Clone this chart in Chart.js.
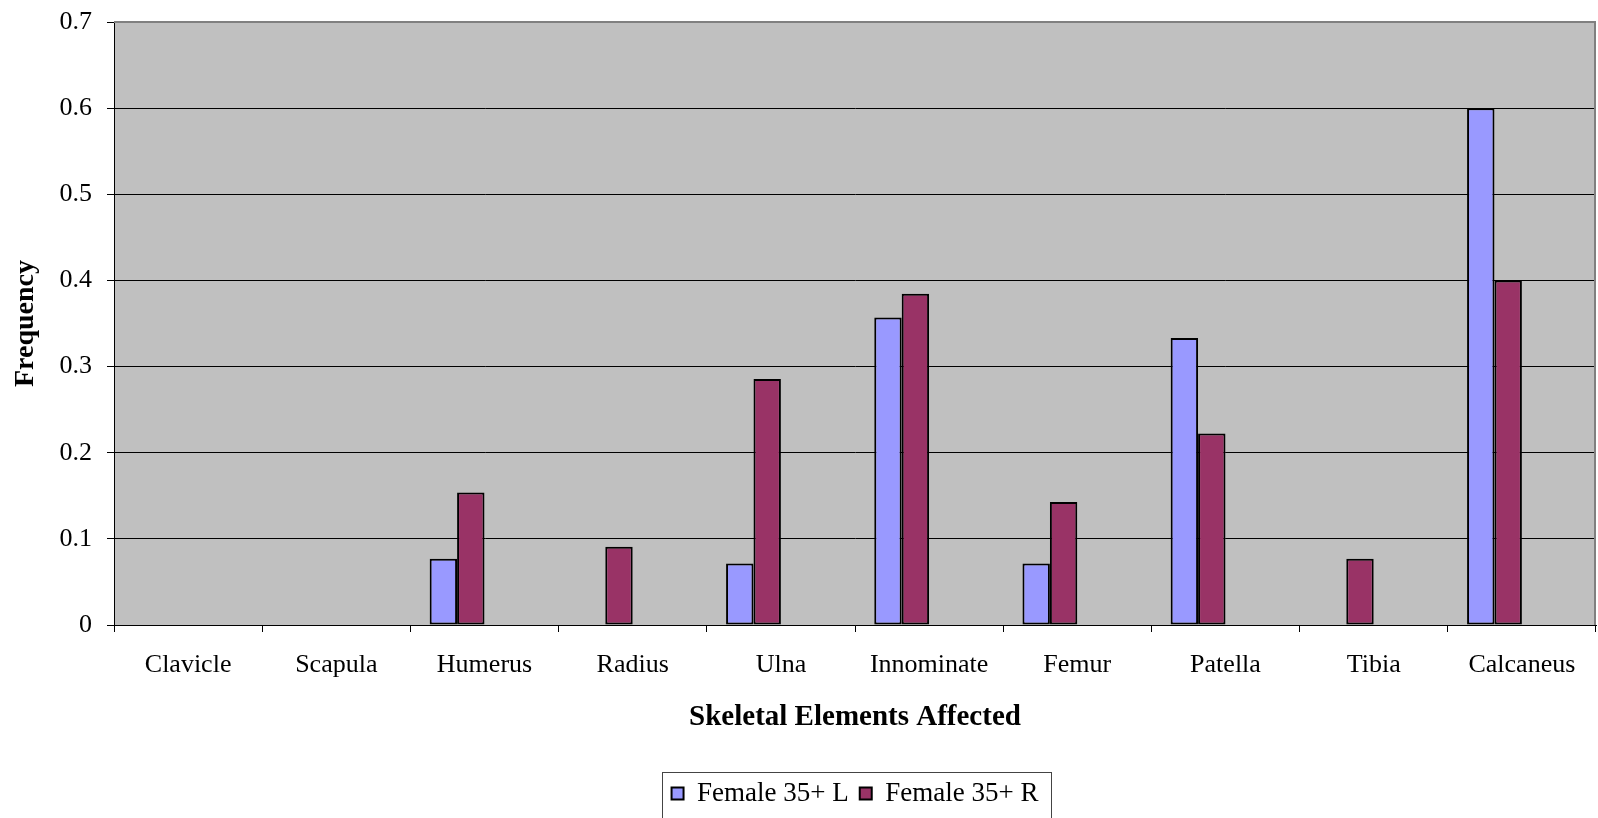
<!DOCTYPE html>
<html>
<head>
<meta charset="utf-8">
<title>Skeletal Elements Affected</title>
<script src="https://cdn.jsdelivr.net/npm/chart.js@4/dist/chart.umd.min.js"></script>
<style>
  html, body { margin: 0; padding: 0; background: #ffffff; }
  #wrap { width: 1598px; height: 818px; }
</style>
</head>
<body>
<div id="wrap"><canvas id="chart" width="1598" height="818"></canvas></div>
<script>
// Skeletal elements on the category axis
const categories = ['Clavicle', 'Scapula', 'Humerus', 'Radius', 'Ulna',
  'Innominate', 'Femur', 'Patella', 'Tibia', 'Calcaneus'];

// Frequency of affected elements, left and right side
const femaleLeft  = [0, 0, 0.0769, 0, 0.0714, 0.3571, 0.0714, 0.3333, 0, 0.6];
const femaleRight = [0, 0, 0.1538, 0.0909, 0.2857, 0.3846, 0.1429, 0.2222, 0.0769, 0.4];

// Two empty series keep the grouped bar slots of the original workbook layout
const emptySeries = [null, null, null, null, null, null, null, null, null, null];

// Labels for the frequency axis
const yTickLabels = ['0', '0.1', '0.2', '0.3', '0.4', '0.5', '0.6', '0.7'];

const serif = "'Liberation Serif', 'Times New Roman', serif";

// Grey plot area behind the grid, with a grey edge on top and right
const plotBackground = {
  id: 'plotBackground',
  beforeDraw(chart) {
    const { ctx, chartArea: a } = chart;
    ctx.save();
    ctx.fillStyle = '#c0c0c0';
    ctx.fillRect(a.left, a.top, a.right - a.left, a.bottom - a.top);
    ctx.restore();
  },
  afterDraw(chart) {
    const { ctx, chartArea: a } = chart;
    ctx.save();
    ctx.strokeStyle = '#808080';
    ctx.lineWidth = 2;
    ctx.beginPath();
    ctx.moveTo(a.left, a.top);
    ctx.lineTo(a.right - 1, a.top);
    ctx.lineTo(a.right - 1, a.bottom);
    ctx.stroke();
    ctx.restore();
  }
};

// Frame around the legend entries
const legendFrame = {
  id: 'legendFrame',
  afterDraw(chart) {
    const lg = chart.legend;
    const boxes = lg && lg.legendHitBoxes;
    if (!boxes || !boxes.length) return;
    const left = Math.min(...boxes.map(b => b.left)) - 10;
    const right = Math.max(...boxes.map(b => b.left + b.width)) + 12;
    const ctx = chart.ctx;
    ctx.save();
    ctx.strokeStyle = '#444444';
    ctx.lineWidth = 1;
    ctx.strokeRect(Math.round(left) + 0.5, Math.round(lg.top) + 3.5,
      Math.round(right - left), 80);
    ctx.restore();
  }
};

const barStyle = { borderColor: '#000000', borderWidth: 2, borderSkipped: false };

new Chart(document.getElementById('chart'), {
  type: 'bar',
  data: {
    labels: categories,
    datasets: [
      { label: 'Female 35+ L', data: femaleLeft, backgroundColor: '#9999ff', ...barStyle },
      { label: 'Female 35+ R', data: femaleRight, backgroundColor: '#993366', ...barStyle },
      { label: '', data: emptySeries, backgroundColor: '#ffffcc', ...barStyle },
      { label: '', data: emptySeries, backgroundColor: '#ccffff', ...barStyle }
    ]
  },
  options: {
    responsive: false,
    animation: false,
    events: [],
    layout: { padding: { top: 22, right: 2, bottom: 1, left: 0 } },
    datasets: { bar: { categoryPercentage: 0.74, barPercentage: 1.0 } },
    plugins: {
      tooltip: { enabled: false },
      legend: {
        position: 'bottom',
        fullSize: false,
        labels: {
          filter: item => item.text !== '',
          color: '#000000',
          font: { family: serif, size: 27 },
          boxWidth: 12,
          boxHeight: 12,
          padding: 11,
          useBorderRadius: false
        }
      }
    },
    scales: {
      x: {
        afterFit(scale) { scale.height = 144; },
        grid: {
          offset: true,
          drawOnChartArea: false,
          drawTicks: true,
          tickLength: 7,
          color: '#000000',
          tickColor: '#000000'
        },
        border: { color: '#000000', width: 1 },
        ticks: {
          color: '#000000',
          font: { family: serif, size: 26 },
          padding: 18,
          maxRotation: 0,
          autoSkip: false
        },
        title: {
          display: true,
          text: 'Skeletal Elements Affected',
          color: '#000000',
          font: { family: serif, size: 29, weight: 'bold' },
          padding: { top: 0, bottom: 34 }
        }
      },
      y: {
        min: 0,
        max: 0.7,
        afterFit(scale) {
          scale.width = 114;
          scale.paddingTop = 0;
          scale.paddingBottom = 0;
        },
        afterBuildTicks(scale) {
          scale.ticks = yTickLabels.map(t => ({ value: parseFloat(t) }));
        },
        grid: {
          color: '#000000',
          tickColor: '#000000',
          lineWidth: 1,
          tickLength: 7
        },
        border: { color: '#000000', width: 1 },
        ticks: {
          color: '#000000',
          font: { family: serif, size: 26 },
          padding: 15,
          callback: (value, index) => yTickLabels[index]
        },
        title: {
          display: true,
          text: 'Frequency',
          color: '#000000',
          font: { family: serif, size: 28, weight: 'bold' },
          padding: { top: 9, bottom: 0 }
        }
      }
    }
  },
  plugins: [plotBackground, legendFrame]
});
</script>
</body>
</html>
